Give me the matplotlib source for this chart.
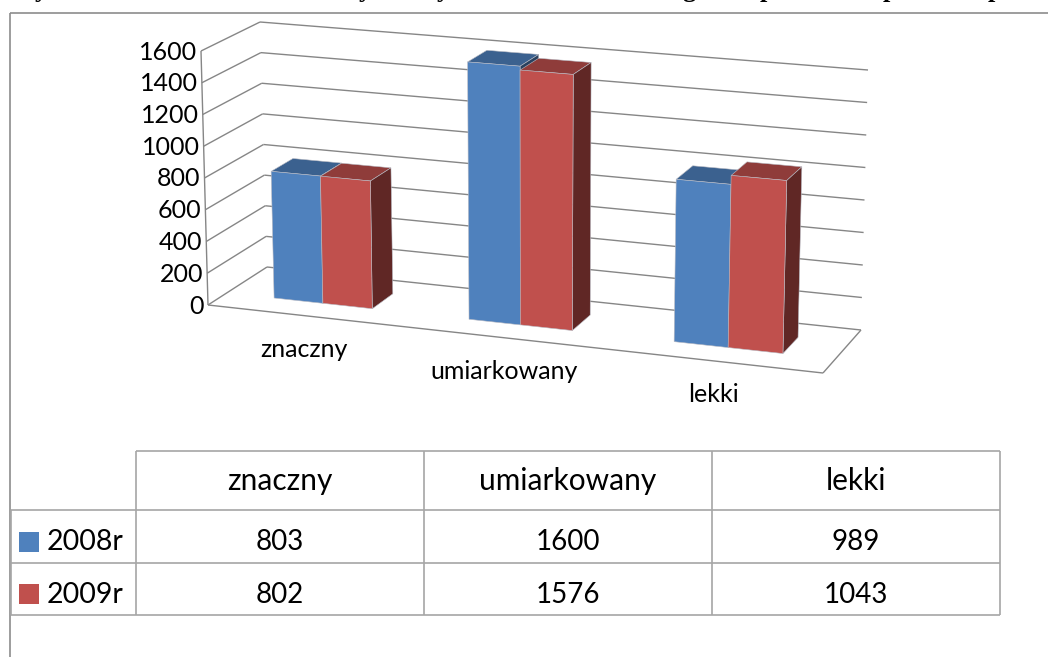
#!/usr/bin/env python3
"""Rebuild the 3-D clustered column chart with its data table."""

import matplotlib

matplotlib.use("Agg")

import matplotlib.pyplot as plt
import numpy as np

categories = ["znaczny", "umiarkowany", "lekki"]
series_names = ["2008r", "2009r"]
values_2008 = [803, 1600, 989]
values_2009 = [802, 1576, 1043]
y_ticks = [0, 200, 400, 600, 800, 1000, 1200, 1400, 1600]
# only the descenders of the cut-off heading are left on the page
heading_letters = ["y", "y", "y", "g", "p", "p", "p"]
heading_centres = [41, 365, 443, 689, 767, 890, 995]

WIDTH, HEIGHT = 1048, 657
FONT = "Lato"
GRID = "#868686"
BLUE = {"front": "#4F81BD", "top": "#3B618F", "side": "#28415F"}
RED = {"front": "#C0504D", "top": "#8F3C3A", "side": "#602725"}

# pixel position of the plot box corners, keyed (x, depth, top)
BOX = {
    (0, 0, 0): (208, 305),
    (0, 0, 1): (201, 51),
    (0, 1, 0): (267, 267),
    (0, 1, 1): (260, 22),
    (1, 0, 0): (823, 373),
    (1, 0, 1): (830, 103),
    (1, 1, 0): (861, 330),
    (1, 1, 1): (868, 70),
}
BAR_FRONT, BAR_BACK = 0.32, 0.70
BAR_START, BAR_WIDTH = 0.25, 0.255


def project(x, depth, value):
    """Map category position, depth (0-1) and value to pixels."""
    u = x / 3.0
    u = u / (u + 1.08 * (1.0 - u))
    v = value / 1600.0
    out = np.zeros(2)
    for (i, j, k), corner in BOX.items():
        weight = (u if i else 1 - u) * (depth if j else 1 - depth) * (v if k else 1 - v)
        out += weight * np.array(corner, dtype=float)
    return out


def draw_bar(ax, x0, x1, value, colors):
    """Draw one column as its top, right side and front faces."""
    faces = [
        ("top", [(x0, BAR_FRONT, value), (x1, BAR_FRONT, value), (x1, BAR_BACK, value), (x0, BAR_BACK, value)]),
        ("side", [(x1, BAR_FRONT, 0), (x1, BAR_BACK, 0), (x1, BAR_BACK, value), (x1, BAR_FRONT, value)]),
        ("front", [(x0, BAR_FRONT, 0), (x1, BAR_FRONT, 0), (x1, BAR_FRONT, value), (x0, BAR_FRONT, value)]),
    ]
    for name, points in faces:
        xy = np.array([project(*p) for p in points])
        ax.fill(xy[:, 0], xy[:, 1], color=colors[name], ec="#B9BBC4", lw=0.4, zorder=3)


def line(ax, start, end, color=GRID, lw=1.0, zorder=2):
    ax.plot([start[0], end[0]], [start[1], end[1]], color=color, lw=lw, zorder=zorder,
            solid_capstyle="butt")


fig = plt.figure(figsize=(WIDTH / 100, HEIGHT / 100), dpi=100)
ax = fig.add_axes([0, 0, 1, 1])
ax.set_xlim(0, WIDTH)
ax.set_ylim(HEIGHT, 0)
ax.axis("off")

for letter, centre in zip(heading_letters, heading_centres):
    ax.text(centre, -3, letter, family="Liberation Serif", weight="bold", fontsize=19,
            ha="center", va="baseline", clip_on=False)

# outer chart frame
line(ax, (10, 13), (10, HEIGHT), "#8C8C8C", 1.2)
line(ax, (10, 13), (WIDTH, 13), "#8C8C8C", 1.2)

# walls and floor
for tick in y_ticks:
    left = project(0, 0, tick)
    back_left = project(0, 1, tick)
    back_right = project(3, 1, tick)
    line(ax, left, back_left)
    line(ax, back_left, back_right)
    ax.text(left[0] - 4, left[1] + 1, str(tick), family=FONT, fontsize=18, ha="right", va="center")
line(ax, project(0, 0, 0), project(0, 0, 1600))
line(ax, project(0, 0, 0), project(3, 0, 0))
line(ax, project(3, 0, 0), project(3, 1, 0))

for k, name in enumerate(categories):
    middle = k + BAR_START + BAR_WIDTH
    draw_bar(ax, k + BAR_START, middle, values_2008[k], BLUE)
    draw_bar(ax, middle, middle + BAR_WIDTH, values_2009[k], RED)
    base = project(k + 0.5, 0, 0)
    ax.text(base[0], base[1] + 34, name, family=FONT, fontsize=18, ha="center", va="center")

# data table
TABLE_COLOR = "#A6A6A6"
col_edges = [136, 424, 712, 1000]
row_edges = [451, 510, 563, 615]
for x in col_edges:
    line(ax, (x, row_edges[0]), (x, row_edges[-1]), TABLE_COLOR, 1.2)
line(ax, (11, row_edges[1]), (11, row_edges[-1]), TABLE_COLOR, 1.2)
line(ax, (col_edges[0], row_edges[0]), (col_edges[-1], row_edges[0]), TABLE_COLOR, 1.2)
for y in row_edges[1:]:
    line(ax, (11, y), (col_edges[-1], y), TABLE_COLOR, 1.2)

for c, name in enumerate(categories):
    centre = (col_edges[c] + col_edges[c + 1]) / 2
    ax.text(centre, 481, name, family=FONT, fontsize=21.5, ha="center", va="center")
    for r, values in enumerate([values_2008, values_2009]):
        mid = (row_edges[r + 1] + row_edges[r + 2]) / 2
        ax.text(centre, mid + 6, str(values[c]), family=FONT, fontsize=20, ha="center", va="center")

for r, (label, colors) in enumerate(zip(series_names, [BLUE, RED])):
    mid = (row_edges[r + 1] + row_edges[r + 2]) / 2 + 5
    ax.fill([19, 39, 39, 19], [mid - 10, mid - 10, mid + 10, mid + 10], color=colors["front"], lw=0)
    ax.text(47, mid + 1, label, family=FONT, fontsize=20.5, ha="left", va="center")

fig.savefig("out.png", dpi=100)
plt.close(fig)
